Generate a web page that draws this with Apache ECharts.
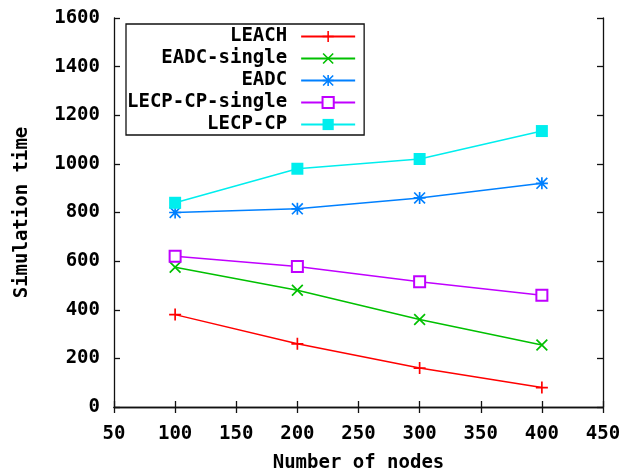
<!DOCTYPE html>
<html><head><meta charset="utf-8">
<script src="https://cdn.jsdelivr.net/npm/echarts@6/dist/echarts.min.js"></script>
<style>html,body{margin:0;padding:0;background:#fff}#c{width:626px;height:470px}</style>
</head><body><div id="c"></div>
<script>
const nodes = [100, 200, 300, 400];
const seriesNames = ['LEACH', 'EADC-single', 'EADC', 'LECP-CP-single', 'LECP-CP'];
const leach = [380, 260, 160, 80];
const eadcSingle = [575, 480, 360, 255];
const eadc = [800, 815, 860, 920];
const lecpSingle = [620, 578, 515, 460];
const lecp = [840, 980, 1020, 1135];
const xTicks = [50, 100, 150, 200, 250, 300, 350, 400, 450];
const yTicks = [0, 200, 400, 600, 800, 1000, 1200, 1400, 1600];

const values = [leach, eadcSingle, eadc, lecpSingle, lecp];
const colors = ['#ff0000', '#00c000', '#0080ff', '#c000ff', '#00eeee'];
const symbols = [
  'path://M4.3,0H5.7V4.3H10V5.7H5.7V10H4.3V5.7H0V4.3H4.3Z',
  'path://M0,1L1,0L10,9L9,10Z M9,0L10,1L1,10L0,9Z',
  'path://M4.3,0H5.7V10H4.3Z M0,4.3H10V5.7H0Z M0,1L1,0L10,9L9,10Z M9,0L10,1L1,10L0,9Z',
  'emptyRect',
  'rect'
];
const symbolSizes = [12, 12, 12, 11, 12];
const FONT = 'DejaVu Sans Mono';
const FS = 19;

const chart = echarts.init(document.getElementById('c'), null, {renderer: 'canvas'});
const frameLine = {show: true, lineStyle: {color: '#111', width: 1.3}};
const tick = {show: true, inside: true, length: 6, lineStyle: {color: '#111', width: 1.3}};
const lbl = {color: '#000', fontFamily: FONT, fontWeight: 'bold', fontSize: FS, formatter: v => String(v)};

chart.setOption({
  animation: false,
  backgroundColor: '#fff',
  grid: {left: 114, right: 23, top: 18, bottom: 63, containLabel: false, outerBoundsMode: 'none'},
  xAxis: [{
    type: 'value', min: xTicks[0], max: xTicks[xTicks.length - 1], interval: 50,
    position: 'bottom',
    axisLine: frameLine, axisTick: tick, splitLine: {show: false},
    axisLabel: Object.assign({}, lbl, {margin: 18}),
    name: 'Number of nodes', nameLocation: 'middle', nameGap: 47,
    nameTextStyle: {color: '#000', fontFamily: FONT, fontWeight: 'bold', fontSize: FS}
  }, {
    type: 'value', min: xTicks[0], max: xTicks[xTicks.length - 1], interval: 50,
    position: 'top',
    axisLine: frameLine, axisTick: tick, splitLine: {show: false}, axisLabel: {show: false}
  }],
  yAxis: [{
    type: 'value', min: yTicks[0], max: yTicks[yTicks.length - 1], interval: 200,
    position: 'left',
    axisLine: frameLine, axisTick: tick, splitLine: {show: false},
    axisLabel: Object.assign({}, lbl, {margin: 14}),
    name: 'Simulation time', nameLocation: 'middle', nameGap: 82, nameRotate: 90,
    nameTextStyle: {color: '#000', fontFamily: FONT, fontWeight: 'bold', fontSize: FS}
  }, {
    type: 'value', min: yTicks[0], max: yTicks[yTicks.length - 1], interval: 200,
    position: 'right',
    axisLine: frameLine, axisTick: tick, splitLine: {show: false}, axisLabel: {show: false}
  }],
  legend: {
    orient: 'vertical', align: 'right',
    left: 126, top: 24,
    data: seriesNames,
    itemWidth: 54, itemHeight: 14, itemGap: 3,
    padding: [3, 8, 1, 1],
    borderColor: '#111', borderWidth: 1.3,
    textStyle: {color: '#000', fontFamily: FONT, fontWeight: 'bold', fontSize: FS, lineHeight: 18, padding: [0, 9, 0, 0]}
  },
  series: seriesNames.map((name, i) => ({
    name: name,
    type: 'line',
    xAxisIndex: 0, yAxisIndex: 0,
    data: nodes.map((n, j) => [n, values[i][j]]),
    symbol: symbols[i],
    symbolSize: symbolSizes[i],
    showSymbol: true,
    lineStyle: {color: colors[i], width: 1.5},
    itemStyle: {color: colors[i]},
    z: 2 + i
  }))
});
</script></body></html>
